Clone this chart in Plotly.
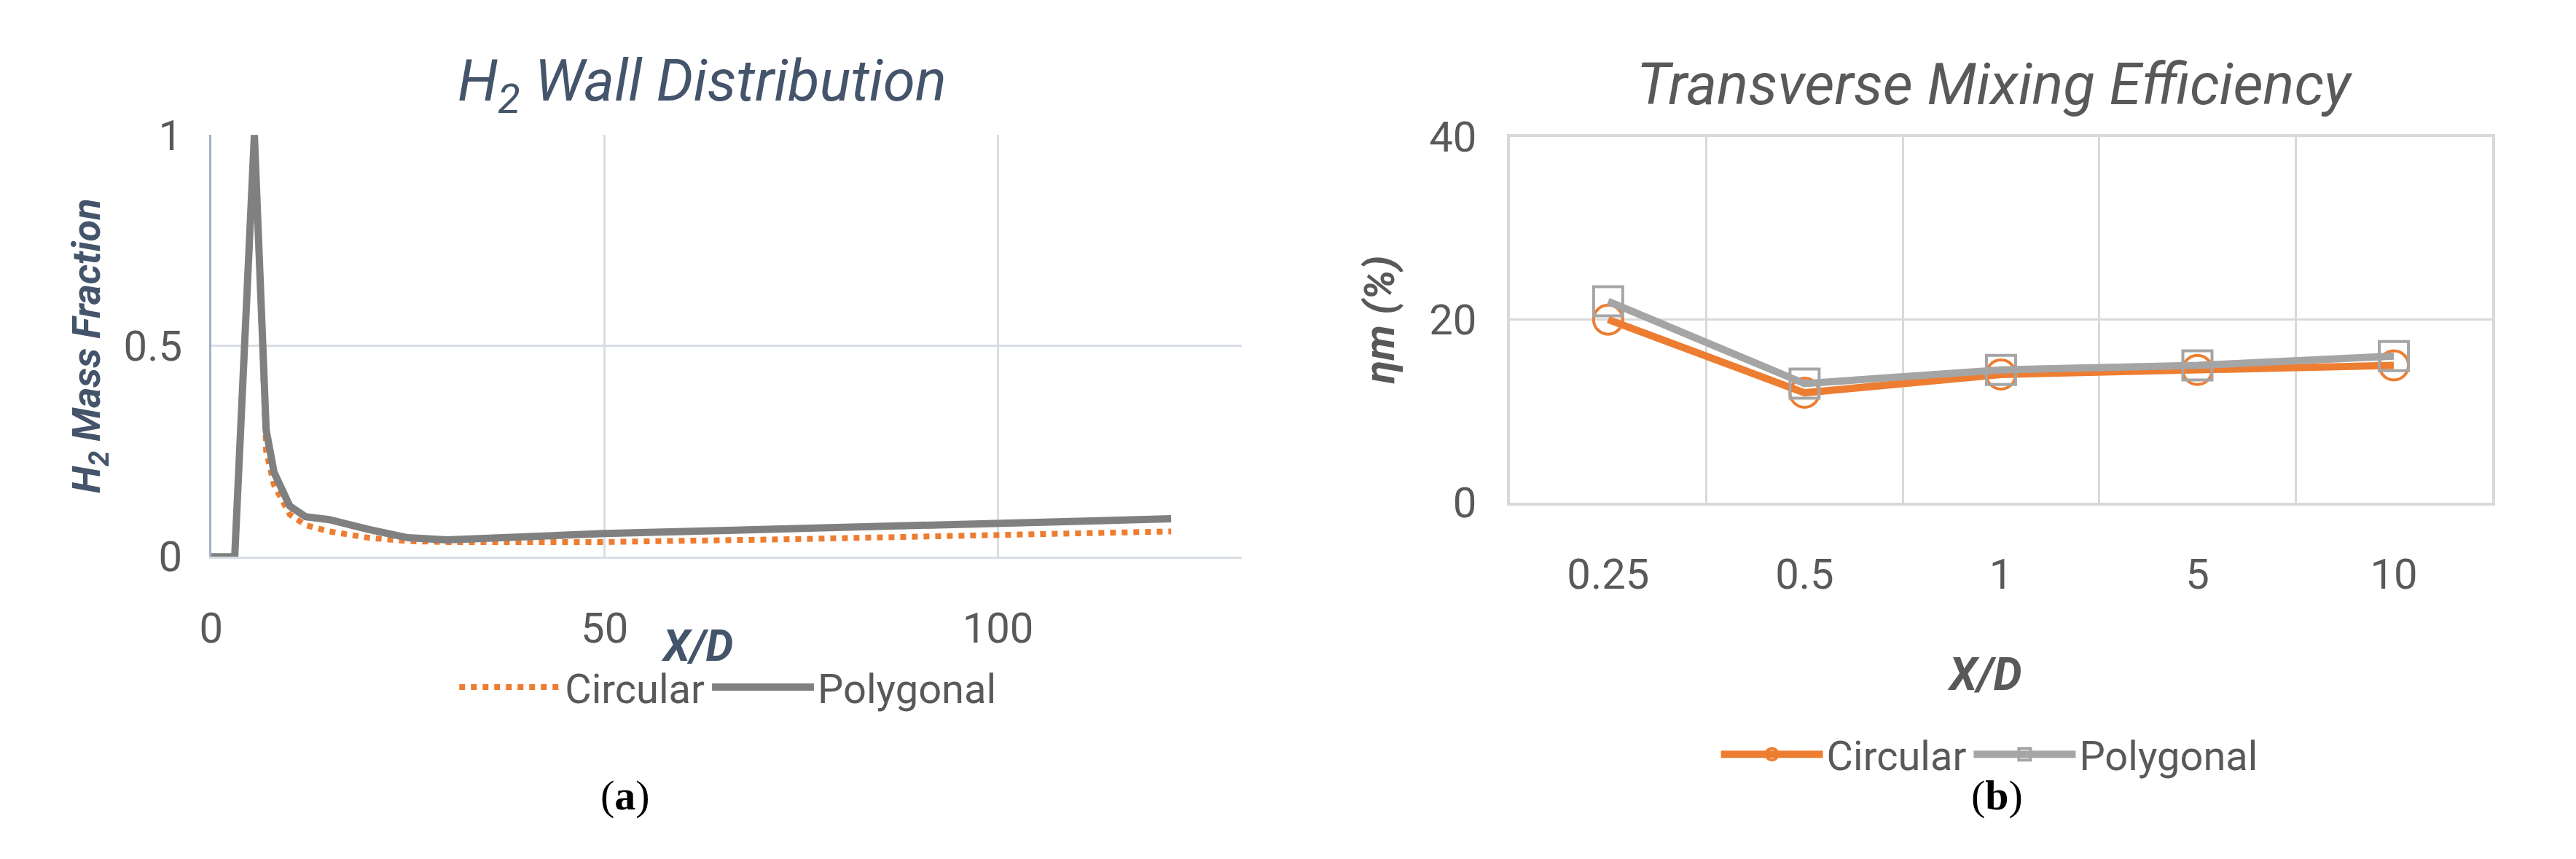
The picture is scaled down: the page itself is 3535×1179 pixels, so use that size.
import plotly.graph_objects as go

xd_wall = [0, 3, 5.5, 7, 8, 10, 12, 15, 20, 25, 30, 50, 75, 100, 122]
circ_wall = [0, 0, 1.0, 0.25, 0.17, 0.1, 0.075, 0.06, 0.045, 0.037, 0.035, 0.035, 0.042, 0.05, 0.06]
poly_wall = [0, 0, 1.0, 0.3, 0.2, 0.12, 0.095, 0.088, 0.065, 0.045, 0.04, 0.055, 0.067, 0.08, 0.09]

cats = ["0.25", "0.5", "1", "5", "10"]
circ_eff = [20, 12, 14, 14.5, 15]
poly_eff = [22, 13, 14.5, 15, 16]

FONT = "Roboto"
TXT = "#595959"
ORANGE = "#ED7D31"
GREY = "#808080"
LGREY = "#A5A5A5"

fig = go.Figure()
fig.add_trace(go.Scatter(x=xd_wall, y=circ_wall, mode="lines", name="Circular",
                         line=dict(color=ORANGE, width=8, dash="dot"), legend="legend"))
fig.add_trace(go.Scatter(x=xd_wall, y=poly_wall, mode="lines", name="Polygonal",
                         line=dict(color=GREY, width=10), legend="legend"))
fig.add_trace(go.Scatter(x=list(range(5)), y=circ_eff, mode="lines+markers", name="Circular",
                         xaxis="x2", yaxis="y2", legend="legend2",
                         line=dict(color=ORANGE, width=10),
                         marker=dict(symbol="circle-open", size=40, color=ORANGE, line=dict(width=4))))
fig.add_trace(go.Scatter(x=list(range(5)), y=poly_eff, mode="lines+markers", name="Polygonal",
                         xaxis="x2", yaxis="y2", legend="legend2",
                         line=dict(color=LGREY, width=10),
                         marker=dict(symbol="square-open", size=40, color=LGREY, line=dict(width=4))))

tick = dict(family=FONT, size=58, color=TXT)
fig.update_layout(
    width=3535, height=1179, margin=dict(l=0, r=0, t=0, b=0),
    paper_bgcolor="white", plot_bgcolor="white",
    font=dict(family=FONT, color=TXT),
    xaxis=dict(domain=[0.0755, 0.4775], range=[0, 131], tickvals=[0, 50, 100],
               showgrid=True, gridcolor="#d9dde6", gridwidth=3, zeroline=False,
               showline=True, linecolor="#d9dde6", linewidth=3, tickfont=tick, ticks="",
               ticklabelstandoff=45),
    yaxis=dict(domain=[0.350, 0.871], range=[0, 1], tickvals=[0, 0.5, 1],
               showgrid=True, gridcolor="#d9dde6", gridwidth=3, zeroline=False,
               showline=True, linecolor="#a5b0c4", linewidth=3,
               tickfont=tick, ticklabelstandoff=25,
               title=dict(text="<b><i>H<sub>2</sub> Mass Fraction</i></b>",
                          font=dict(family=FONT, size=54, color="#44546A"), standoff=15)),
    xaxis2=dict(domain=[0.582, 0.965], range=[-0.5, 4.5], anchor="y2",
                tickvals=list(range(5)), ticktext=cats, showgrid=False, zeroline=False,
                minor=dict(tick0=-0.5, dtick=1, showgrid=True, gridcolor="#d9d9d9", gridwidth=3),
                showline=True, mirror=True, linecolor="#d9d9d9", linewidth=4,
                tickfont=tick, ticklabelstandoff=45),
    yaxis2=dict(domain=[0.417, 0.869], range=[0, 40], tickvals=[0, 20, 40], anchor="x2",
                showgrid=True, gridcolor="#d9d9d9", gridwidth=3, zeroline=False,
                showline=True, mirror=True, linecolor="#d9d9d9", linewidth=4,
                tickfont=tick, ticklabelstandoff=30,
                title=dict(text="<b><i>ηm (%)</i></b>", font=dict(family=FONT, size=58, color=TXT),
                           standoff=30)),
    legend=dict(orientation="h", x=0.277, y=0.189, xanchor="center", yanchor="middle",
                font=dict(family=FONT, size=56, color=TXT), itemwidth=140, bgcolor="rgba(0,0,0,0)"),
    legend2=dict(orientation="h", x=0.769, y=0.106, xanchor="center", yanchor="middle",
                 font=dict(family=FONT, size=56, color=TXT), itemwidth=140, bgcolor="rgba(0,0,0,0)"),
    showlegend=True,
)
ann = [
    dict(text="<i>H<sub>2</sub> Wall Distribution</i>", x=0.267, y=0.933, size=80, color="#44546A"),
    dict(text="<i>Transverse Mixing Efficiency</i>", x=0.771, y=0.933, size=80, color=TXT),
    dict(text="<b><i>X/D</i></b>", x=0.265, y=0.24, size=60, color="#44546A"),
    dict(text="<b><i>X/D</i></b>", x=0.767, y=0.205, size=62, color=TXT),
    dict(text="(<b>a</b>)", x=0.237, y=0.055, size=58, color="black", fam="Liberation Serif"),
    dict(text="(<b>b</b>)", x=0.772, y=0.055, size=58, color="black", fam="Liberation Serif"),
]
for a in ann:
    fig.add_annotation(text=a["text"], x=a["x"], y=a["y"], xref="paper", yref="paper",
                       showarrow=False, xanchor="center", yanchor="middle",
                       font=dict(family=a.get("fam", FONT), size=a["size"], color=a["color"]))
fig.write_html("out.html")
